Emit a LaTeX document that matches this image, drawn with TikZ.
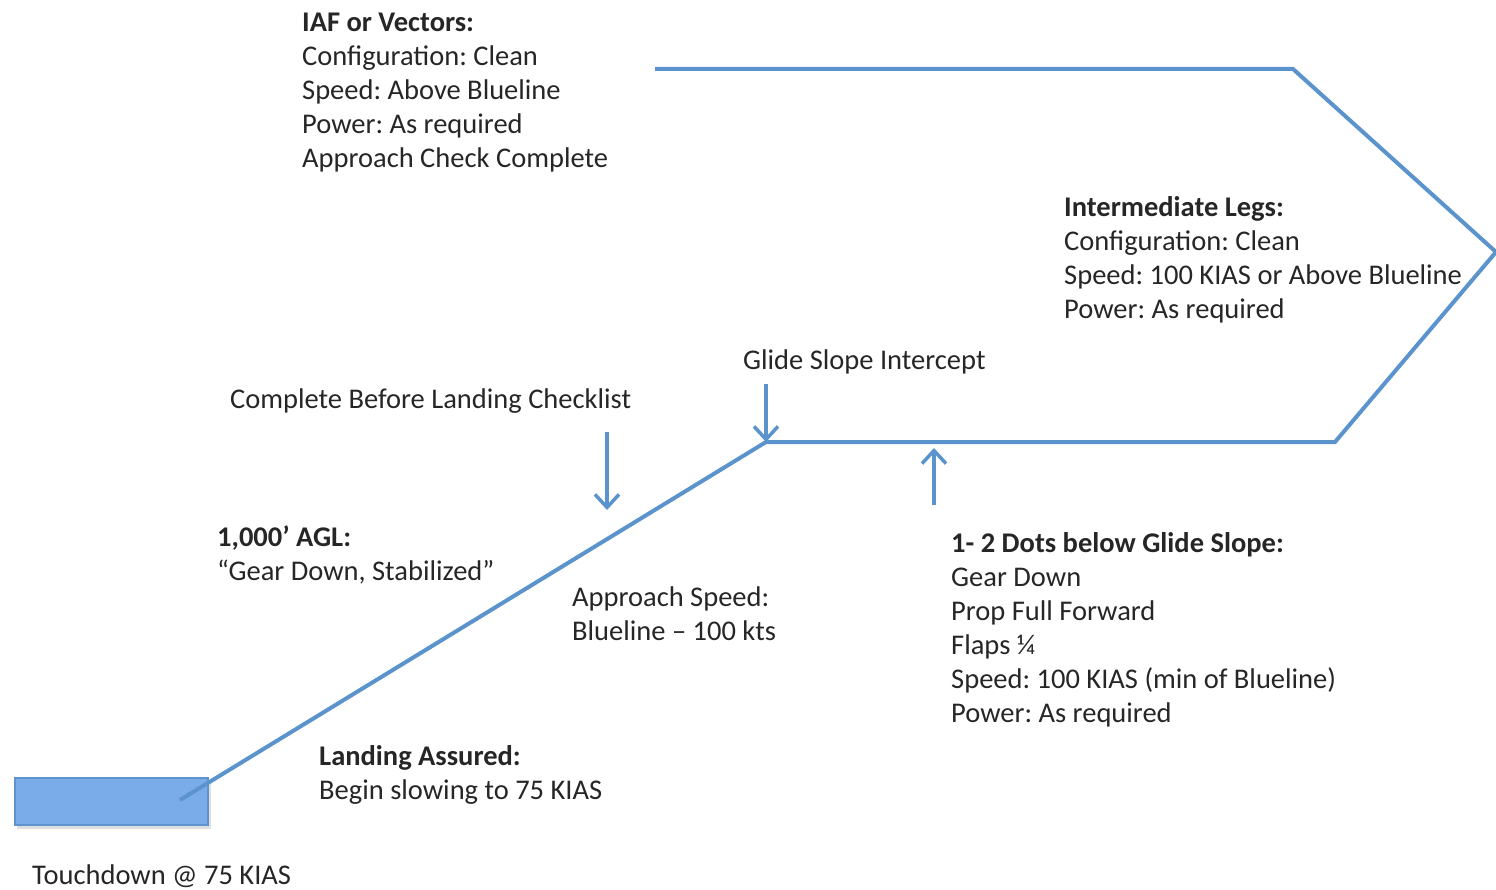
\documentclass[tikz,border=0pt]{standalone}
\usepackage{fontspec}
\setmainfont{Carlito}
\usetikzlibrary{arrows.meta}
\definecolor{pathblue}{HTML}{5B93CC}
\definecolor{rectfill}{HTML}{79ACE8}
\definecolor{rectline}{HTML}{5E93D0}
\tikzset{
  txt/.style={anchor=north west, inner sep=0pt, align=left, text=black!85, font=\fontsize{28.5}{34}\selectfont\frenchspacing},
  route/.style={draw=pathblue, line width=4pt, line join=miter},
  marker/.style={draw=pathblue, line width=4pt, -{Straight Barb[length=13pt, width=24pt, line width=3.5pt]}},
}
\begin{document}
\begin{tikzpicture}[x=1pt, y=-1pt]
\useasboundingbox (0,0) rectangle (1496,890);
% runway
\fill[black!25, opacity=0.5] (17,780) rectangle (211,829);
\node[draw=rectline, line width=1.5pt, fill=rectfill, minimum width=193pt, minimum height=47pt, inner sep=0pt, anchor=north west] (rwy) at (14,777) {};
% route
\coordinate (p1) at (655,69);
\coordinate (p2) at (1293,69);
\coordinate (p3) at (1496,252);
\coordinate (p4) at (1335,442);
\coordinate (gsi) at (766,442);
\coordinate (td) at (180,800);
\draw[route] (p1) -- (p2) -- (p3) -- (p4) -- (gsi) -- (td);
% marker arrows
\coordinate (a1s) at (766,384);
\coordinate (a2s) at (607,432);
\coordinate (a2e) at (607,510);
\coordinate (a3s) at (934,505);
\coordinate (a3e) at (934,448);
\draw[marker] (a1s) -- (gsi);
\draw[marker] (a2s) -- (a2e);
\draw[marker] (a3s) -- (a3e);
% texts
\node[txt] (iaf) at (302,13) {\textbf{IAF or Vectors:}\\Configuration: Clean\\Speed: Above Blueline\\Power: As required\\Approach Check Complete};
\node[txt] (inter) at (1064,196) {\textbf{Intermediate Legs:}\\Configuration: Clean\\Speed: 100 KIAS or Above Blueline\\Power: As required};
\node[txt] (glide) at (743,350) {Glide Slope Intercept};
\node[txt] (cbl) at (230,389) {Complete Before Landing Checklist};
\node[txt] (agl) at (217,526) {\textbf{1,000’ AGL:}\\“Gear Down, Stabilized”};
\node[txt] (aps) at (572,587) {Approach Speed:\\Blueline – 100 kts};
\node[txt] (dots) at (951,532) {\textbf{1- 2 Dots below Glide Slope:}\\Gear Down\\Prop Full Forward\\Flaps ¼\\Speed: 100 KIAS (min of Blueline)\\Power: As required};
\node[txt] (la) at (319,745) {\textbf{Landing Assured:}\\Begin slowing to 75 KIAS};
\node[txt] (tdl) at (32,865) {Touchdown @ 75 KIAS};
\end{tikzpicture}
\end{document}
